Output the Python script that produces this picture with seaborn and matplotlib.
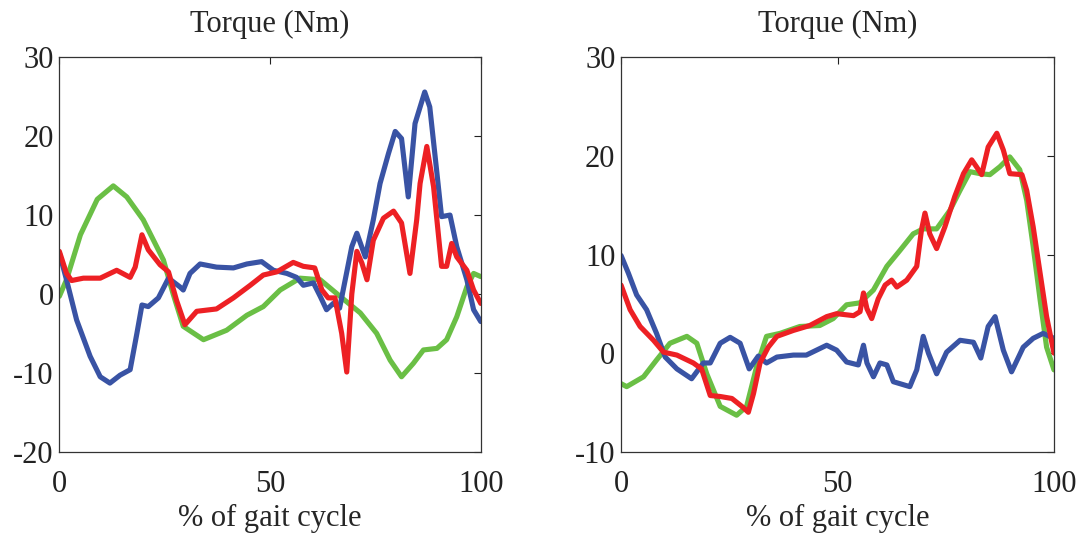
import numpy as np
import pandas as pd
import matplotlib
matplotlib.use("Agg")
import matplotlib.pyplot as plt
import seaborn as sns

# ---------------- data ----------------
# Left panel
L_green_x = [0, 1.7, 5, 9, 12.8, 16, 19.9, 24.7, 27, 29.4, 34.2, 39.7, 44.5, 48.4, 52.4, 57.1, 61.9,
             66.6, 71.4, 75.3, 78.5, 81.2, 84, 86.4, 89.6, 91.9, 94.3, 96.7, 98.3, 100]
L_green_y = [-0.3, 1.8, 7.5, 12.0, 13.7, 12.3, 9.4, 4.3, 0.0, -4.1, -5.8, -4.6, -2.7, -1.6, 0.5, 2.0, 1.8,
             -0.3, -2.4, -5.0, -8.4, -10.5, -8.8, -7.1, -6.9, -5.8, -2.9, 0.9, 2.6, 2.2]

L_red_x = [0, 1.7, 2.9, 5.7, 9.7, 13.6, 16.8, 18, 19.6, 21.1, 23.9, 25.9, 27.8, 29.8, 32.6, 37.3, 41.3,
           45.3, 48.4, 51.6, 55.5, 57.9, 60.6, 62.3, 63.8, 65.4, 67, 68.2, 69.4, 70.6, 71.8, 73, 74.5,
           76.9, 79.3, 81.2, 83.2, 84.8, 85.6, 87.2, 88.8, 90.7, 91.9, 93.1, 94.3, 96.7, 98.3, 100]
L_red_y = [5.4, 2.6, 1.7, 2.0, 2.0, 3.0, 2.1, 3.4, 7.5, 5.6, 3.7, 2.8, -0.8, -3.9, -2.2, -1.9, -0.5,
           1.1, 2.4, 2.8, 4.0, 3.5, 3.3, 0.5, -0.5, -0.5, -5.0, -9.9, 0.0, 5.4, 3.9, 1.8, 6.8,
           9.6, 10.5, 9.0, 2.6, 9.4, 14.0, 18.7, 13.6, 3.5, 3.5, 6.4, 4.7, 3.0, 0.5, -1.2]

L_blue_x = [0, 1.7, 4.1, 7.3, 9.7, 12.0, 14.4, 16.8, 18.4, 19.6, 21.1, 23.5, 25.9, 28.6, 29.4, 31.0,
            33.4, 37.3, 41.3, 44.5, 48.0, 50.8, 54.0, 56.3, 57.9, 60.3, 61.9, 63.4, 65.0, 66.5, 69.4,
            70.6, 72.6, 74.5, 76.1, 78.1, 79.7, 81.2, 82.8, 84.4, 86.7, 87.9, 89.6, 90.7, 92.7, 94.3,
            96.7, 98.3, 100]
L_blue_y = [5.2, 1.8, -3.3, -7.9, -10.5, -11.3, -10.3, -9.6, -5.0, -1.4, -1.6, -0.5, 2.0, 0.9, 0.5, 2.6,
            3.8, 3.4, 3.3, 3.8, 4.1, 3.0, 2.6, 2.1, 1.1, 1.4, -0.3, -2.0, -1.2, -1.8, 6.0,
            7.7, 4.7, 9.4, 14.0, 17.8, 20.6, 19.7, 12.3, 21.6, 25.6, 23.7, 15.3, 9.8, 10.0, 6.0,
            1.8, -2.0, -3.5]

# Right panel
R_green_x = [0, 1.3, 5.2, 8.2, 11.3, 15.2, 17.5, 19.8, 22.9, 26.7, 29.0, 31.3, 33.6, 36.7, 41.3, 45.9,
             49.0, 52.1, 55.2, 58.3, 61.4, 64.4, 67.5, 69.8, 72.9, 76.0, 78.3, 80.6, 82.9, 85.2, 87.5,
             89.8, 92.1, 93.7, 95.2, 96.8, 98.3, 100]
R_green_y = [-3.1, -3.4, -2.4, -0.7, 1.0, 1.7, 1.0, -2.1, -5.4, -6.3, -5.4, -1.4, 1.7, 2.0, 2.7, 2.8,
             3.5, 4.9, 5.1, 6.4, 8.8, 10.4, 12.1, 12.6, 12.6, 14.5, 16.5, 18.4, 18.2, 18.1, 18.9,
             19.9, 18.6, 15.5, 10.8, 5.4, 0.6, -1.7]

R_red_x = [0, 2.1, 4.4, 7.5, 9.8, 12.9, 16.7, 18.6, 20.6, 22.9, 25.6, 27.9, 29.4, 30.6, 32.1, 34.0, 36.0,
           39.8, 43.6, 47.5, 49.8, 53.7, 55.2, 56.0, 56.8, 57.9, 59.4, 61.0, 62.5, 63.7, 66.0, 68.3,
           69.4, 70.2, 71.3, 72.9, 74.8, 77.1, 79.1, 81.0, 82.1, 83.3, 84.8, 86.8, 88.3, 89.8, 92.6,
           93.7, 95.2, 96.8, 98.3, 100]
R_red_y = [6.9, 4.4, 2.7, 1.3, 0.1, -0.2, -1.0, -1.6, -4.3, -4.4, -4.6, -5.4, -6.0, -4.1, -1.0, 0.6, 1.7,
           2.3, 2.8, 3.7, 4.0, 3.8, 4.2, 6.1, 4.5, 3.5, 5.5, 6.9, 7.4, 6.7, 7.4, 8.8,
           12.5, 14.2, 12.1, 10.6, 12.8, 15.9, 18.2, 19.6, 18.9, 18.1, 20.9, 22.3, 20.6, 18.2, 18.1,
           16.5, 12.8, 8.1, 3.7, 0.0]

R_blue_x = [0, 1.7, 3.6, 5.9, 8.2, 10.2, 12.9, 16.3, 19.0, 20.6, 22.9, 25.2, 27.5, 29.6, 31.7, 33.6,
            36.0, 39.8, 42.8, 47.5, 49.8, 52.1, 54.8, 56.0, 56.8, 58.3, 59.8, 61.4, 62.9, 66.7, 68.3,
            69.8, 71.0, 72.9, 75.2, 78.3, 81.4, 83.1, 84.8, 86.4, 88.3, 90.2, 92.9, 95.2, 97.5, 100]
R_blue_y = [9.9, 8.1, 5.9, 4.4, 2.0, -0.4, -1.6, -2.6, -1.0, -1.0, 1.0, 1.6, 1.0, -1.6, -0.3, -1.0,
            -0.4, -0.2, -0.2, 0.8, 0.3, -0.9, -1.2, 0.8, -1.0, -2.4, -1.0, -1.2, -2.9, -3.4, -1.7,
            1.7, 0.0, -2.1, 0.1, 1.3, 1.1, -0.5, 2.7, 3.7, 0.3, -1.9, 0.6, 1.5, 2.0, 1.5]

series_order = ["green", "blue", "red"]
palette = {"green": "#6abf45", "blue": "#3953a4", "red": "#ed2024"}

x_ticks = [0, 50, 100]
L_yticks = [-20, -10, 0, 10, 20, 30]
R_yticks = [-10, 0, 10, 20, 30]
title_text = "Torque (Nm)"
xlabel_text = "% of gait cycle"


def long_frame(parts):
    frames = []
    for name, xs, ys in parts:
        frames.append(pd.DataFrame({"x": xs, "y": ys, "series": name}))
    return pd.concat(frames, ignore_index=True)


df_left = long_frame([("green", L_green_x, L_green_y), ("blue", L_blue_x, L_blue_y),
                      ("red", L_red_x, L_red_y)])
df_right = long_frame([("green", R_green_x, R_green_y), ("blue", R_blue_x, R_blue_y),
                       ("red", R_red_x, R_red_y)])

# ---------------- style ----------------
sns.set_style("white")
plt.rcParams["font.family"] = ["Liberation Serif", "DejaVu Serif"]
plt.rcParams["axes.unicode_minus"] = False

FS = 22

fig = plt.figure(figsize=(10.85, 5.33), dpi=100)
ax1 = fig.add_axes([0.0547, 0.1525, 0.3884, 0.74])
ax2 = fig.add_axes([0.5724, 0.1525, 0.3990, 0.74])

for ax, df, yt in [(ax1, df_left, L_yticks), (ax2, df_right, R_yticks)]:
    sns.lineplot(data=df, x="x", y="y", hue="series", hue_order=series_order,
                 palette=palette, linewidth=3.7, legend=False, ax=ax, sort=True,
                 estimator=None)
    for ln in ax.get_lines():
        ln.set_solid_joinstyle("round")
        ln.set_solid_capstyle("round")
    ax.set_xlim(0, 100)
    ax.set_ylim(yt[0], yt[-1])
    ax.set_xticks(x_ticks)
    ax.set_yticks(yt)
    ax.tick_params(direction="in", length=5, width=0.8, top=True, right=True,
                   labelsize=FS, colors="#222222")
    ax.tick_params(axis="y", pad=4)
    ax.tick_params(axis="x", pad=13)
    for s in ax.spines.values():
        s.set_linewidth(0.9)
        s.set_color("#333333")
        s.set_visible(True)
    ax.set_title(title_text, fontsize=FS, pad=18)
    ax.set_xlabel(xlabel_text, fontsize=FS, labelpad=4)
    ax.set_ylabel("")

fig.savefig("out.png", dpi=100, facecolor="white")
